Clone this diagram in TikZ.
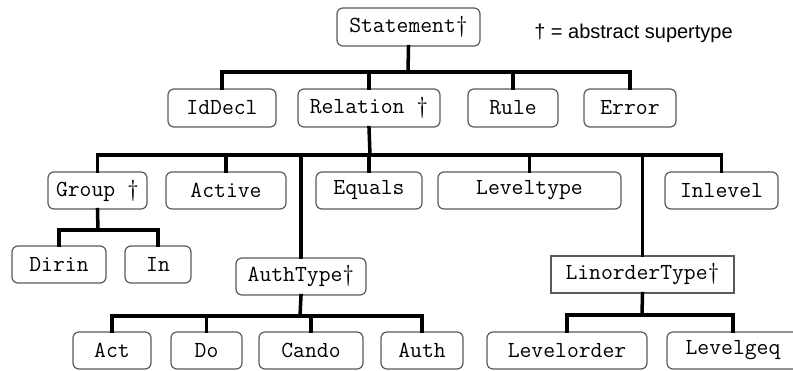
\documentclass[tikz,border=0pt]{standalone}
\usepackage{fontspec}
\setmainfont{Liberation Sans}
\definecolor{boxline}{HTML}{5A5A5A}
\begin{document}
\begin{tikzpicture}[x=1pt,y=-1pt,
  cls/.style={draw=boxline, line width=1.2pt, rounded corners=6pt, fill=white,
    font=\ttfamily\fontsize{23}{24}\selectfont\addfontfeatures{LetterSpace=6}, inner sep=0pt,
    minimum height=37pt, text=black},
  sqcls/.style={cls, rounded corners=0pt},
  conn/.style={line width=3.5pt, line join=miter, line cap=rect}]
\useasboundingbox (0,0) rectangle (793,371);
\begin{scope}
\clip (0,0) rectangle (793,371);
\coordinate (b1) at (408,72);
\coordinate (b2) at (370,155);
\coordinate (b3) at (98,230);
\coordinate (b4) at (300,316);
\coordinate (b5) at (642,315);

% nodes
\node[cls, minimum width=143pt, minimum height=38pt] (stmt) at (408.5,27) {Statement†};
\node[cls, minimum width=108pt, minimum height=38pt] (iddecl) at (222,108) {IdDecl};
\node[cls, minimum width=142pt, minimum height=38pt] (rel) at (369,108) {Relation †};
\node[cls, minimum width=90pt, minimum height=38pt] (rule) at (513,108) {Rule};
\node[cls, minimum width=92pt, minimum height=38pt] (err) at (630,108) {Error};

\node[cls, minimum width=99pt] (group) at (97.5,190.5) {Group †};
\node[cls, minimum width=120pt] (active) at (226,190.5) {Active};
\node[cls, minimum width=106pt] (equals) at (369,190.5) {Equals};
\node[cls, minimum width=183pt] (leveltype) at (529.5,190.5) {Leveltype};
\node[cls, minimum width=113pt] (inlevel) at (721.5,190.5) {Inlevel};

\node[cls, minimum width=94pt] (dirin) at (59,264.5) {Dirin};
\node[cls, minimum width=66pt] (in) at (158,264.5) {In};
\node[cls, minimum width=130pt] (authtype) at (301,276.5) {AuthType†};
\node[sqcls, minimum width=183pt] (linorder) at (642.5,274.5) {LinorderType†};

\node[cls, minimum width=78pt] (act) at (112,350.5) {Act};
\node[cls, minimum width=71pt] (do) at (206.5,350.5) {Do};
\node[cls, minimum width=104pt] (cando) at (311,350.5) {Cando};
\node[cls, minimum width=82pt] (auth) at (422,350.5) {Auth};
\node[cls, minimum width=160pt] (levelorder) at (567,350.5) {Levelorder};
\node[cls, minimum width=132pt] (levelgeq) at (733,350.5) {Levelgeq};

\node[font=\fontsize{20}{24}\selectfont, inner sep=0pt] (legend) at (633.5,33) {† = abstract supertype};

% connectors
\draw[conn] (stmt.south) -- (b1);
\draw[conn] (b1) -| (iddecl.north);
\draw[conn] (b1) -| (rel.north);
\draw[conn] (b1) -| (rule.north);
\draw[conn] (b1) -| (err.north);

\draw[conn] (rel.south) -- (b2);
\draw[conn] (b2) -| (group.north);
\draw[conn] (b2) -| (active.north);
\draw[conn] (b2) -| (authtype.north);
\draw[conn] (b2) -| (equals.north);
\draw[conn] (b2) -| (leveltype.north);
\draw[conn] (b2) -| (linorder.north);
\draw[conn] (b2) -| (inlevel.north);

\draw[conn] (group.south) -- (b3);
\draw[conn] (b3) -| (dirin.north);
\draw[conn] (b3) -| (in.north);

\draw[conn] (authtype.south) -- (b4);
\draw[conn] (b4) -| (act.north);
\draw[conn] (b4) -| (do.north);
\draw[conn] (b4) -| (cando.north);
\draw[conn] (b4) -| (auth.north);

\draw[conn] (linorder.south) -- (b5);
\draw[conn] (b5) -| (levelorder.north);
\draw[conn] (b5) -| (levelgeq.north);
\end{scope}
\end{tikzpicture}
\end{document}
